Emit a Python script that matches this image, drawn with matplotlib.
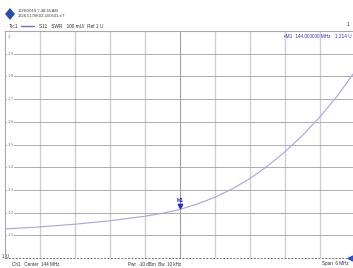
import numpy as np
import matplotlib.pyplot as plt

# Trace S11 SWR (MHz, U)
freqMHz = [141.0, 141.6, 142.2, 142.8, 143.4, 143.7, 144.0, 144.3, 144.6, 144.9,
           145.2, 145.5, 145.8, 146.1, 146.4, 146.7, 147.0]
swr = [1.128, 1.137, 1.149, 1.164, 1.184, 1.197, 1.214, 1.238, 1.268, 1.305,
       1.350, 1.405, 1.468, 1.540, 1.622, 1.715, 1.822]

yGrid = [1.1, 1.2, 1.3, 1.4, 1.5, 1.6, 1.7, 1.8, 1.9]
yLabels = ["1.1", "1.2", "1.3", "1.4", "1.5", "1.6", "1.7", "1.8", "1.9"]

markerFreq = 144.0
markerVal = 1.214

plt.rcParams['font.family'] = ['Liberation Sans', 'DejaVu Sans']

W, H = 353, 268
fig = plt.figure(figsize=(W / 100, H / 100), dpi=100)
fig.patch.set_facecolor('white')

ax = fig.add_axes([5 / W, 10 / H, 350 / W, 227 / H])
ax.set_xlim(141, 147)
ax.set_ylim(1, 2)
ax.set_xticks([])
ax.set_yticks([])
for s in ['left', 'top', 'right']:
    ax.spines[s].set_color('#a8a8a8')
    ax.spines[s].set_linewidth(0.8)
ax.spines['bottom'].set_visible(False)

# grid
for i in range(1, 10):
    f = 141 + i * 0.6
    if i == 5:
        ax.axvline(f, color='#9a9a9a', lw=0.7, zorder=1)
    else:
        ax.axvline(f, color='#d0d0d0', lw=1.0, zorder=1)
for v in yGrid:
    ax.axhline(v, color='#a0a0a0', lw=0.6, zorder=1)
ax.axhline(1.0, color='#707070', lw=0.7, ls=(0, (2, 1.5)), zorder=1, clip_on=False)

# y labels sitting on grid lines
for v, lab in zip(yGrid, yLabels):
    ax.text(0.008, v, lab, transform=ax.get_yaxis_transform(), fontsize=3.2,
            color='#808080', va='center', ha='left',
            bbox=dict(facecolor='white', edgecolor='none', pad=0.3), zorder=2)
ax.text(0.008, 0.975, "2", transform=ax.transAxes, fontsize=3.2, color='#808080',
        va='center', ha='left')

# trace
ax.plot(freqMHz, swr, color='#a4a4e8', lw=0.8, zorder=3)

# marker M1
ax.plot([markerFreq], [markerVal + 0.013], marker='v', color='#2a2ad0',
        markersize=3.2, zorder=4)
ax.text(markerFreq, markerVal + 0.028, "M1", fontsize=3.6, color='#2a2ad0',
        ha='center', va='bottom', fontweight='bold', zorder=4)

# marker readout
ax.text(0.99, 0.985, "\u2022M1  144.000000 MHz   1.214 U", transform=ax.transAxes,
        fontsize=3.4, color='#3030c8', ha='right', va='top')

# header
fig.patches.append(plt.Polygon([[5 / W, 1 - 14 / H], [10 / W, 1 - 8 / H],
                                [15 / W, 1 - 14 / H], [10 / W, 1 - 20 / H]],
                               closed=True, transform=fig.transFigure,
                               facecolor='#2a4fa8', edgecolor='none'))
fig.text(18 / W, 1 - 11 / H, "10/8/2019 7:48:36 AM", fontsize=3.0, color='#404040',
         va='center')
fig.text(18 / W, 1 - 16 / H, "1328.5170K02-100641-eT", fontsize=3.0, color='#404040',
         va='center')
fig.text(9 / W, 1 - 26 / H, "Trc1", fontsize=3.4, color='#303030', va='center')
fig.lines.append(plt.Line2D([21 / W, 34 / W], [1 - 26 / H, 1 - 26 / H],
                            transform=fig.transFigure, color='#7070d0', lw=1.0))
fig.text(39 / W, 1 - 26 / H, "S11   SWR   100 mU/  Ref 1 U", fontsize=3.4,
         color='#303030', va='center')
fig.text(348 / W, 1 - 25 / H, "1", fontsize=3.4, color='#303030', va='center',
         ha='center')

# footer
fig.text(2 / W, 1 - 257 / H, "1 U", fontsize=3.3, color='#303030', va='center')
fig.text(12 / W, 1 - 264 / H, "Ch1   Center  144 MHz", fontsize=3.3,
         color='#303030', va='center')
fig.text(128 / W, 1 - 264 / H, "Pwr  -10 dBm  Bw  10 kHz", fontsize=3.3,
         color='#303030', va='center')
fig.text(349 / W, 1 - 264 / H, "Span  6 MHz", fontsize=3.3, color='#303030',
         va='center', ha='right')
fig.lines.append(plt.Line2D([350 / W], [1 - 258 / H], transform=fig.transFigure,
                            marker='<', color='#2a4fd0', markersize=3.5, lw=0))

fig.savefig("out.png", dpi=100)
